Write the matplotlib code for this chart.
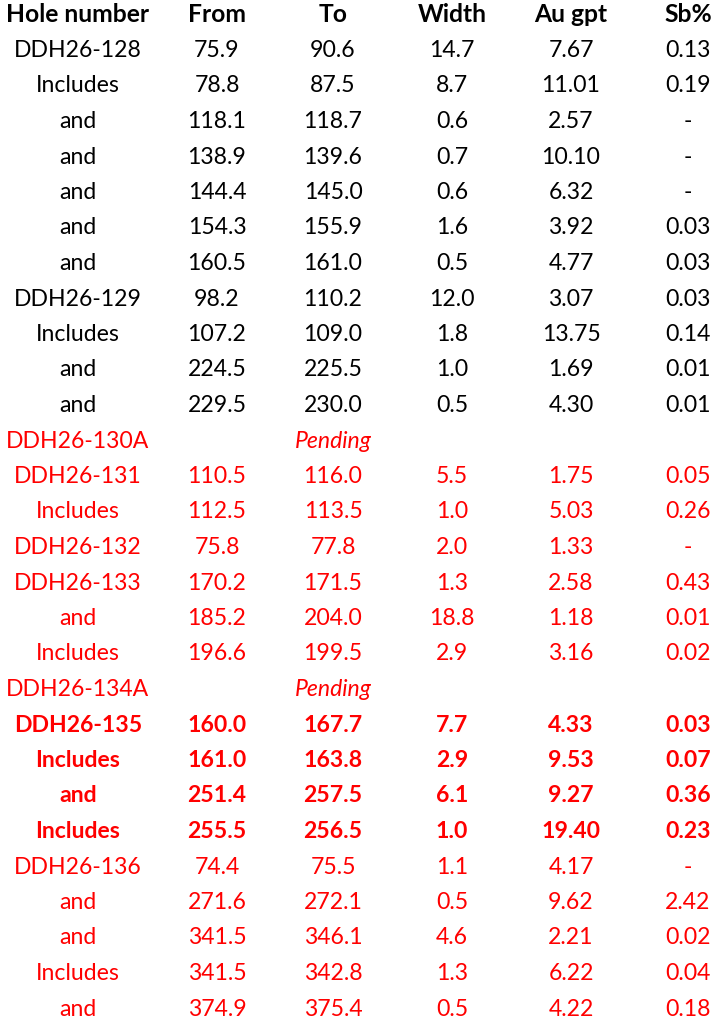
import matplotlib
matplotlib.use("Agg")
import matplotlib.pyplot as plt

HEADERS = ["Hole number", "From", "To", "Width", "Au gpt", "Sb%"]

HOLES = ["DDH26-128", "Includes", "and", "and", "and", "and", "and",
         "DDH26-129", "Includes", "and", "and",
         "DDH26-130A",
         "DDH26-131", "Includes",
         "DDH26-132",
         "DDH26-133", "and", "Includes",
         "DDH26-134A",
         "DDH26-135", "Includes", "and", "Includes",
         "DDH26-136", "and", "and", "Includes", "and"]

FROM_M = [75.9, 78.8, 118.1, 138.9, 144.4, 154.3, 160.5,
          98.2, 107.2, 224.5, 229.5,
          None,
          110.5, 112.5,
          75.8,
          170.2, 185.2, 196.6,
          None,
          160.0, 161.0, 251.4, 255.5,
          74.4, 271.6, 341.5, 341.5, 374.9]

TO_M = [90.6, 87.5, 118.7, 139.6, 145.0, 155.9, 161.0,
        110.2, 109.0, 225.5, 230.0,
        None,
        116.0, 113.5,
        77.8,
        171.5, 204.0, 199.5,
        None,
        167.7, 163.8, 257.5, 256.5,
        75.5, 272.1, 346.1, 342.8, 375.4]

WIDTHS = [14.7, 8.7, 0.6, 0.7, 0.6, 1.6, 0.5,
          12.0, 1.8, 1.0, 0.5,
          None,
          5.5, 1.0,
          2.0,
          1.3, 18.8, 2.9,
          None,
          7.7, 2.9, 6.1, 1.0,
          1.1, 0.5, 4.6, 1.3, 0.5]

AU_GPT = [7.67, 11.01, 2.57, 10.10, 6.32, 3.92, 4.77,
          3.07, 13.75, 1.69, 4.30,
          None,
          1.75, 5.03,
          1.33,
          2.58, 1.18, 3.16,
          None,
          4.33, 9.53, 9.27, 19.40,
          4.17, 9.62, 2.21, 6.22, 4.22]

# "-" where no value was reported
SB_PCT = [0.13, 0.19, "-", "-", "-", 0.03, 0.03,
          0.03, 0.14, 0.01, 0.01,
          None,
          0.05, 0.26,
          "-",
          0.43, 0.01, 0.02,
          None,
          0.03, 0.07, 0.36, 0.23,
          "-", 2.42, 0.02, 0.04, 0.18]

N_BLACK = 11                 # first rows are older results (black)
BOLD_ROWS = {19, 20, 21, 22}  # DDH26-135 block

RED = "#ff0000"
FONT = ["Lato", "DejaVu Sans"]
SIZE = 16.6
HEAD_SIZE = 17.7

col_x = [78, 217, 333, 452, 571, 688]
y0, dy = 21.5, 35.5


def fmt(v, nd):
    if isinstance(v, str):
        return v
    return f"{v:.{nd}f}"


fig = plt.figure(figsize=(7.19, 10.24), dpi=100)
ax = fig.add_axes([0, 0, 1, 1])
ax.set_xlim(0, 719)
ax.set_ylim(1024, 0)
ax.axis("off")

for x, h in zip(col_x, HEADERS):
    ax.text(x, y0, h, ha="center", va="baseline", family=FONT,
            fontsize=HEAD_SIZE, fontweight="bold", color="black")

for i, hole in enumerate(HOLES):
    y = y0 + dy * (i + 1)
    color = "black" if i < N_BLACK else RED
    weight = "bold" if i in BOLD_ROWS else "normal"
    kw = dict(va="baseline", family=FONT, fontsize=SIZE, color=color,
              fontweight=weight)
    ax.text(col_x[0], y, hole, ha="center", **kw)
    if FROM_M[i] is None:
        ax.text(col_x[2], y, "Pending", ha="center", style="italic", **kw)
        continue
    cells = [fmt(FROM_M[i], 1), fmt(TO_M[i], 1), fmt(WIDTHS[i], 1),
             fmt(AU_GPT[i], 2), fmt(SB_PCT[i], 2)]
    for x, s in zip(col_x[1:], cells):
        ax.text(x, y, s, ha="center", **kw)

fig.savefig("out.png", dpi=100, facecolor="white")
